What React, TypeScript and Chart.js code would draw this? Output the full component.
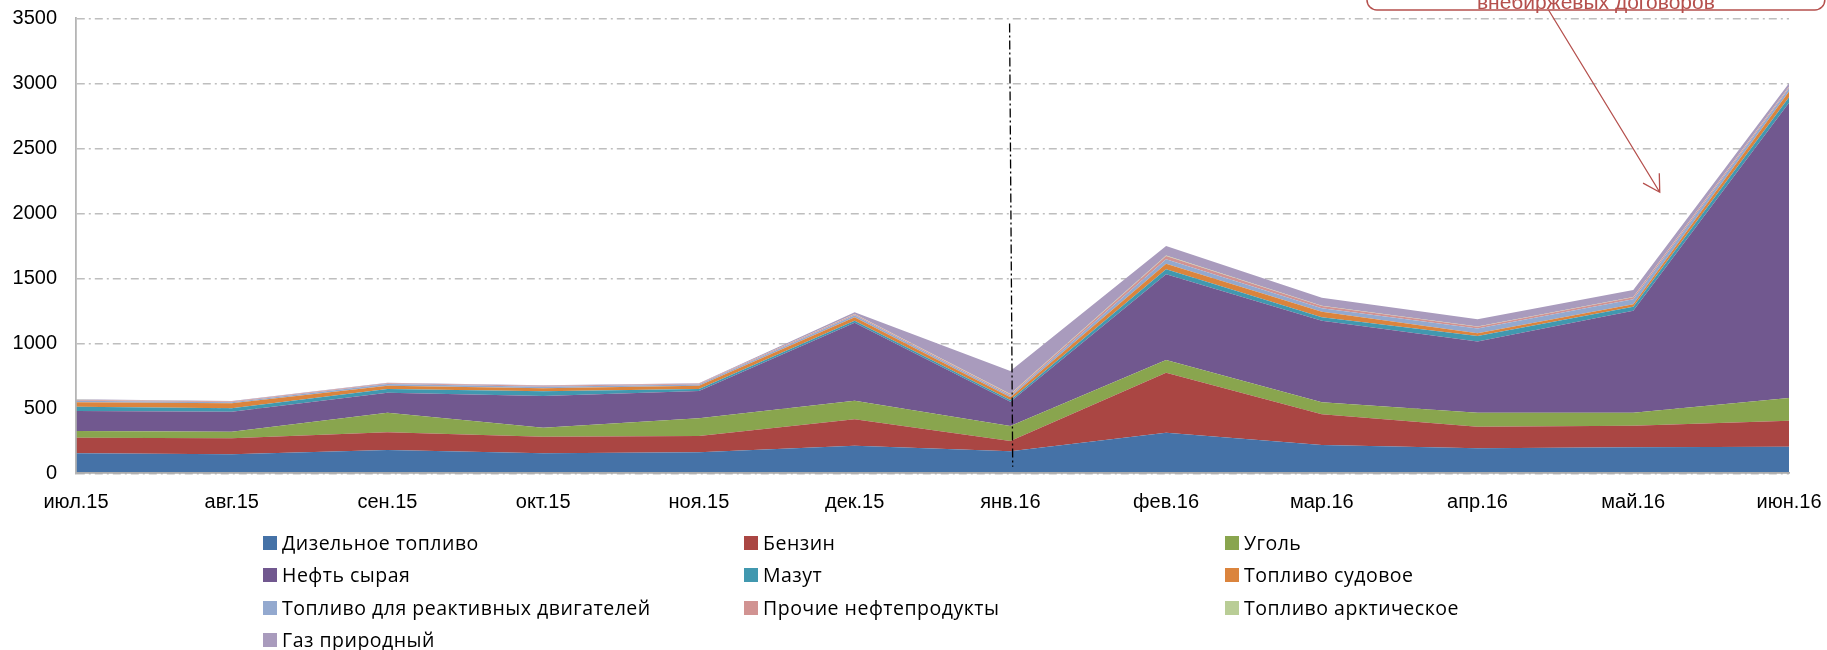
import React, { useEffect, useRef } from "react";
import { Chart, registerables } from "chart.js";

Chart.register(...registerables);

// ---------- data ----------
const months = [
  "июл.15", "авг.15", "сен.15", "окт.15", "ноя.15", "дек.15",
  "янв.16", "фев.16", "мар.16", "апр.16", "май.16", "июн.16",
];

const seriesNames = [
  "Дизельное топливо",
  "Бензин",
  "Уголь",
  "Нефть сырая",
  "Мазут",
  "Топливо судовое",
  "Топливо для реактивных двигателей",
  "Прочие нефтепродукты",
  "Топливо арктическое",
  "Газ природный",
];

const dieselFuel = [154, 146, 179, 154, 161, 212, 169, 312, 218, 192, 200, 205];
const gasoline = [120, 123, 136, 128, 126, 203, 79, 462, 236, 167, 166, 200];
const coal = [51, 51, 151, 69, 136, 143, 116, 98, 92, 107, 100, 174];
const crudeOil = [154, 154, 154, 244, 210, 600, 187, 659, 628, 547, 785, 2272];
const fuelOil = [33, 26, 28, 36, 15, 16, 13, 38, 26, 43, 31, 41];
const marineFuel = [34, 38, 26, 23, 26, 26, 21, 43, 43, 21, 18, 44];
const jetFuel = [12, 9, 12, 12, 10, 15, 12, 34, 26, 36, 38, 26];
const otherProducts = [5, 5, 6, 7, 4, 8, 10, 26, 18, 15, 16, 10];
const arcticFuel = [2, 1, 1, 1, 1, 2, 3, 3, 2, 2, 2, 2];
const naturalGas = [4, 3, 4, 3, 3, 13, 177, 73, 62, 55, 54, 26];

const seriesValues = [
  dieselFuel, gasoline, coal, crudeOil, fuelOil,
  marineFuel, jetFuel, otherProducts, arcticFuel, naturalGas,
];

const seriesColors = [
  "#4572A7", "#AA4643", "#89A54E", "#71588F", "#4198AF",
  "#DB843D", "#93A9CF", "#D19392", "#B9CD96", "#A99BBD",
];

const yMin = 0;
const yMax = 3500;
const yStep = 500;

// vertical marker at янв.16 (category index, value range)
const markerTop = { x: 5.995, y: 3460 };
const markerBottom = { x: 6.015, y: 50 };

// callout (partially off the top of the picture)
const calloutText = "внебиржевых договоров";
const calloutBox = { x0: 8.29, x1: 11.23, yBottom: 3564 };
const calloutArrowFrom = { x: 9.456, y: 3564 };
const calloutArrowTo = { x: 10.17, y: 2162 };

// ---------- styles ----------
const W = 1827;
const H = 650;
const AXIS_FONT = "'Liberation Sans', Arial, sans-serif";
const LEGEND_FONT = "'Open Sans', 'Noto Sans', sans-serif";
const CALLOUT_COLOR = "#B5504D";

const overlayPlugin = {
  id: "overlay",
  afterDatasetsDraw(chart: any) {
    const { ctx, scales } = chart;
    const x = scales.x;
    const y = scales.y;
    ctx.save();
    ctx.strokeStyle = "#000";
    ctx.lineWidth = 1.3;
    ctx.setLineDash([9, 3, 2, 3]);
    ctx.beginPath();
    ctx.moveTo(x.getPixelForValue(markerTop.x), y.getPixelForValue(markerTop.y));
    ctx.lineTo(x.getPixelForValue(markerBottom.x), y.getPixelForValue(markerBottom.y));
    ctx.stroke();
    ctx.restore();
  },
  afterDraw(chart: any) {
    const { ctx, scales } = chart;
    const x = scales.x;
    const y = scales.y;
    ctx.save();
    const bx0 = x.getPixelForValue(calloutBox.x0);
    const bx1 = x.getPixelForValue(calloutBox.x1);
    const by1 = y.getPixelForValue(calloutBox.yBottom);
    ctx.strokeStyle = CALLOUT_COLOR;
    ctx.lineWidth = 1.5;
    ctx.beginPath();
    (ctx as any).roundRect(bx0, by1 - 90, bx1 - bx0, 90, 10);
    ctx.stroke();
    ctx.fillStyle = CALLOUT_COLOR;
    ctx.font = `21px ${AXIS_FONT}`;
    ctx.textAlign = "center";
    ctx.textBaseline = "alphabetic";
    ctx.fillText(calloutText, (bx0 + bx1) / 2, by1 - 1);
    const sx = x.getPixelForValue(calloutArrowFrom.x);
    const sy = y.getPixelForValue(calloutArrowFrom.y);
    const tx = x.getPixelForValue(calloutArrowTo.x);
    const ty = y.getPixelForValue(calloutArrowTo.y);
    ctx.lineWidth = 1.3;
    ctx.beginPath();
    ctx.moveTo(sx, sy);
    ctx.lineTo(tx, ty);
    const ang = Math.atan2(sy - ty, sx - tx);
    const len = 19;
    const spread = Math.PI / 6;
    ctx.moveTo(tx + len * Math.cos(ang + spread), ty + len * Math.sin(ang + spread));
    ctx.lineTo(tx, ty);
    ctx.lineTo(tx + len * Math.cos(ang - spread), ty + len * Math.sin(ang - spread));
    ctx.stroke();
    ctx.restore();
  },
};

export default function App() {
  const canvasRef = useRef<HTMLCanvasElement | null>(null);

  useEffect(() => {
    document.body.style.margin = "0";
    const canvas = canvasRef.current;
    if (!canvas) return;
    const chart = new Chart(canvas, {
      type: "line",
      data: {
        labels: months,
        datasets: seriesNames.map((name, i) => ({
          label: name,
          data: seriesValues[i],
          backgroundColor: seriesColors[i],
          borderColor: seriesColors[i],
          borderWidth: 0,
          pointRadius: 0,
          pointHoverRadius: 0,
          tension: 0,
          fill: i === 0 ? "origin" : "-1",
        })),
      },
      options: {
        responsive: false,
        animation: false,
        events: [],
        layout: { padding: { top: 18.3, right: 38, left: 0, bottom: 0 } },
        plugins: {
          legend: { display: false },
          tooltip: { enabled: false },
        },
        scales: {
          x: {
            offset: false,
            grid: { display: false, drawTicks: false },
            border: { display: true, color: "#ABABAB", width: 1.8, z: 1 },
            ticks: {
              color: "#000",
              font: { family: AXIS_FONT, size: 20 },
              padding: 17,
              maxRotation: 0,
              autoSkip: false,
            },
            afterFit(scale: any) {
              scale.height = H - 473.3;
              scale.paddingLeft = 0;
              scale.paddingRight = 0;
            },
          },
          y: {
            stacked: true,
            min: yMin,
            max: yMax,
            ticks: {
              stepSize: yStep,
              color: "#000",
              font: { family: AXIS_FONT, size: 20 },
              padding: 19,
              callback: (v: any) => String(v),
            },
            grid: { color: "#BEBEBE", lineWidth: 1.6, drawTicks: false },
            border: { display: true, color: "#B5B5B5", width: 1.8, dash: [8, 4, 2, 4], z: 1 },
            afterFit(scale: any) {
              scale.width = 76;
              scale.paddingTop = 0;
              scale.paddingBottom = 0;
            },
          },
        },
      },
      plugins: [overlayPlugin],
    } as any);
    return () => chart.destroy();
  }, []);

  const legendLeft = 263;
  const legendColW = 481;
  const legendTop = 543;
  const legendRowH = 32.3;

  return (
    <div style={{ position: "relative", width: W, height: H, background: "#fff" }}>
      <canvas ref={canvasRef} width={W} height={H} style={{ display: "block", width: W, height: H }} />
      {seriesNames.map((name, i) => {
        const col = i % 3;
        const row = Math.floor(i / 3);
        return (
          <div
            key={name}
            style={{
              position: "absolute",
              left: legendLeft + col * legendColW,
              top: legendTop + row * legendRowH - 12,
              height: 24,
              display: "flex",
              alignItems: "center",
              whiteSpace: "nowrap",
            }}
          >
            <span
              style={{
                display: "inline-block",
                width: 14,
                height: 14,
                background: seriesColors[i],
                marginRight: 5,
              }}
            />
            <span
              style={{
                fontFamily: LEGEND_FONT,
                fontSize: 19.5,
                letterSpacing: "0.5px",
                color: "#000",
                lineHeight: "24px",
              }}
            >
              {name}
            </span>
          </div>
        );
      })}
    </div>
  );
}
